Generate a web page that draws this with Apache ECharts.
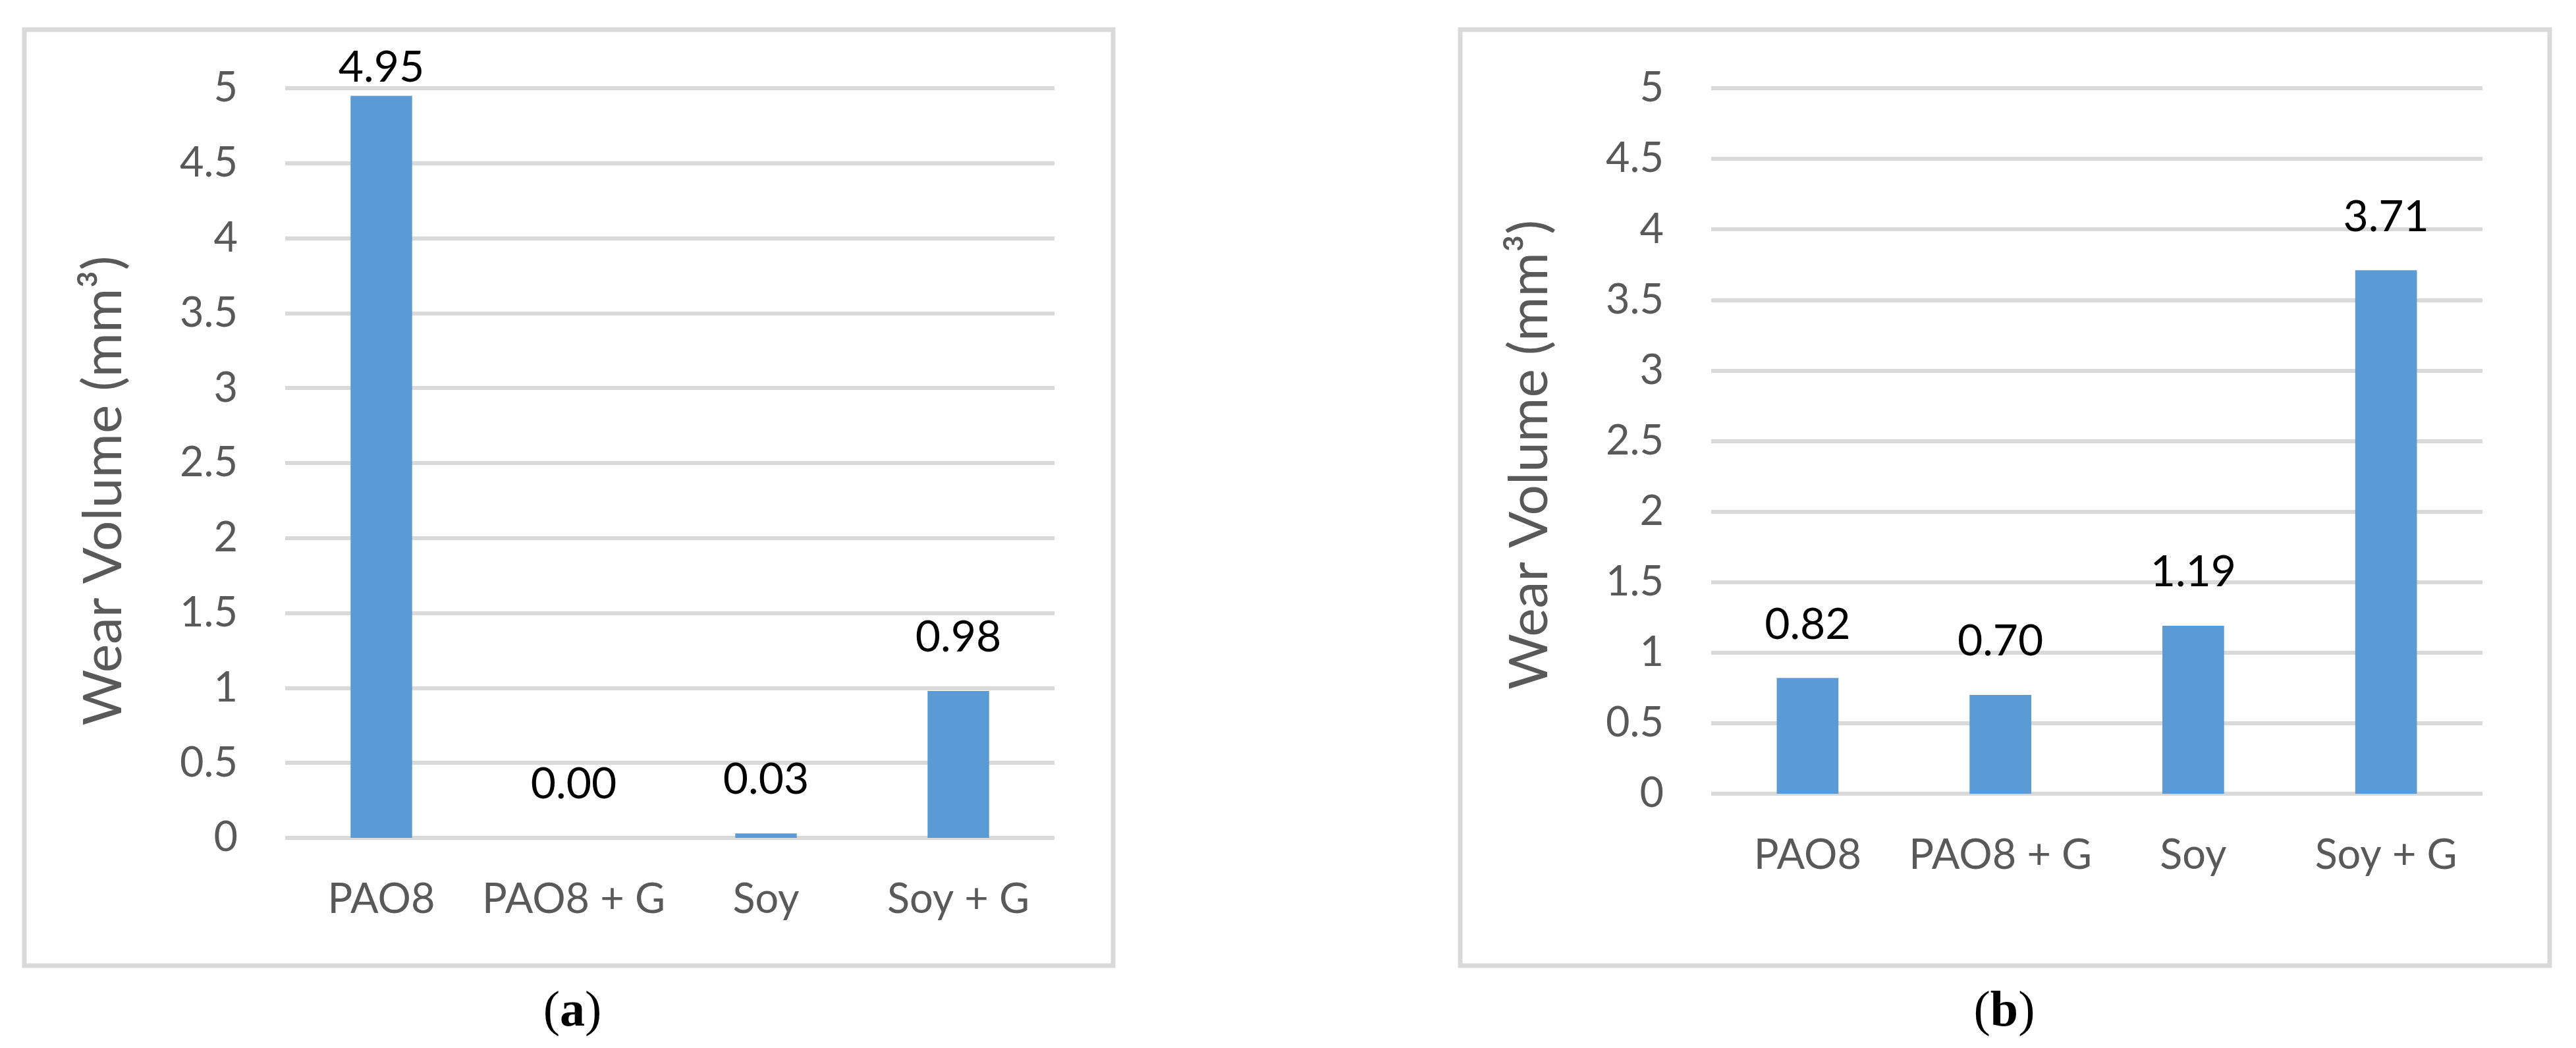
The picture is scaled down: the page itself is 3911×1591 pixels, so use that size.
<!DOCTYPE html>
<html>
<head>
<meta charset="utf-8">
<script src="https://cdn.jsdelivr.net/npm/echarts@6/dist/echarts.min.js"></script>
<style>
  html, body { margin: 0; padding: 0; background: #ffffff; }
  #main { width: 3911px; height: 1591px; }
</style>
</head>
<body>
<div id="main"></div>
<script>
// ---- data ----
const categories = ['PAO8', 'PAO8 + G', 'Soy', 'Soy + G'];
const wearVolumeA = [4.95, 0.00, 0.03, 0.98];
const wearVolumeB = [0.82, 0.70, 1.19, 3.71];
const yMin = 0;
const yMax = 5;
const yStep = 0.5;
const axisTitle = 'Wear Volume (mm³)';
const panelLetters = ['a', 'b'];

// ---- styling ----
const FONT = 'Lato';
const GREY = '#595959';
const GRID_GREY = '#D9D9D9';
const BAR_BLUE = '#5B9BD5';

const grids = [
  { left: 433, top: 134, width: 1168, height: 1138 },
  { left: 2598, top: 134, width: 1171, height: 1071 }
];
const titleShift = [84, 42];

function xAxisFor(i) {
  return {
    type: 'category', gridIndex: i, data: categories,
    axisLine: { show: false }, axisTick: { show: false },
    axisLabel: { interval: 0, margin: 62, fontSize: 63, color: GREY, fontFamily: FONT }
  };
}
function yAxisFor(i) {
  return {
    type: 'value', gridIndex: i, min: yMin, max: yMax, interval: yStep,
    axisLine: { show: false }, axisTick: { show: false },
    axisLabel: { margin: 72, fontSize: 63, color: GREY, fontFamily: FONT },
    splitLine: { show: true, lineStyle: { color: GRID_GREY, width: 6 } },
    name: axisTitle, nameLocation: 'middle', nameRotate: 90, nameGap: 234,
    nameTextStyle: { fontSize: 82, color: GREY, fontFamily: FONT, padding: [0, titleShift[i], 0, 0] }
  };
}
function seriesFor(i, values) {
  return {
    type: 'bar', xAxisIndex: i, yAxisIndex: i, data: values,
    barWidth: '32%',
    itemStyle: { color: BAR_BLUE },
    label: {
      show: true, position: 'top', distance: 48,
      fontSize: 66, color: '#000000', fontFamily: FONT,
      formatter: p => Number(p.value).toFixed(2)
    },
    labelLayout: function (params) {
      const minTop = 70;
      if (params.labelRect.y < minTop) {
        return { dy: minTop - params.labelRect.y };
      }
      return {};
    }
  };
}

const boxes = [
  { x: 37, y: 45, width: 1653, height: 1421 },
  { x: 2217, y: 45, width: 1654, height: 1421 }
];
const letterPos = [[869, 1537], [3043, 1537]];

const graphic = [];
boxes.forEach(b => graphic.push({
  type: 'rect', z: -10, silent: true,
  shape: b, style: { fill: null, stroke: GRID_GREY, lineWidth: 7 }
}));
panelLetters.forEach((L, i) => graphic.push({
  type: 'text', x: letterPos[i][0], y: letterPos[i][1],
  style: {
    text: '{n|(}{b|' + L + '}{n|)}',
    align: 'center', verticalAlign: 'middle',
    fontSize: 76, fontFamily: 'Liberation Serif', fill: '#000000',
    rich: {
      n: { fontSize: 76, fontFamily: 'Liberation Serif', fill: '#000000', color: '#000000' },
      b: { fontSize: 76, fontFamily: 'Liberation Serif', fontWeight: 'bold', fill: '#000000', color: '#000000' }
    }
  }
}));

const chart = echarts.init(document.getElementById('main'), null, { renderer: 'canvas' });
chart.setOption({
  backgroundColor: '#ffffff',
  animation: false,
  grid: grids,
  xAxis: [xAxisFor(0), xAxisFor(1)],
  yAxis: [yAxisFor(0), yAxisFor(1)],
  series: [seriesFor(0, wearVolumeA), seriesFor(1, wearVolumeB)],
  graphic: graphic
});
</script>
</body>
</html>
